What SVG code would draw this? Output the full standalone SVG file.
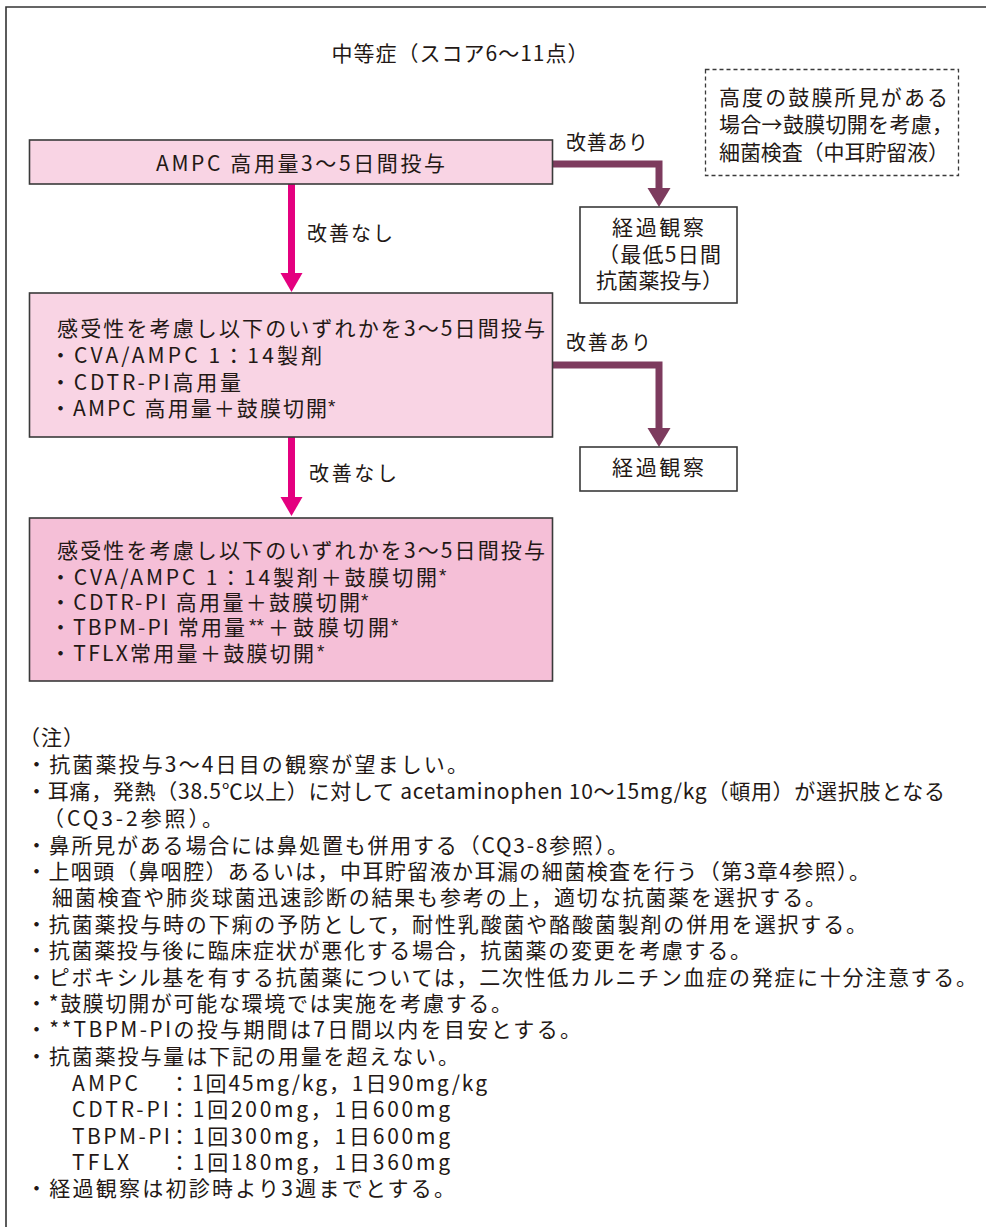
<svg xmlns="http://www.w3.org/2000/svg" width="986" height="1227" viewBox="0 0 986 1227">
<style>
text{font-family:"Noto Sans CJK JP","Noto Sans",sans-serif;fill:#231815;font-size:21px}
.c{text-anchor:middle}
.lbl{font-size:20px}
.sup{font-family:"Liberation Sans",sans-serif;font-size:19px}
.pink{fill:#f9d4e4;stroke:#3a3a3a;stroke-width:1.6}
.pink2{fill:#f5bfd7;stroke:#3a3a3a;stroke-width:1.6}
.white{fill:#fff;stroke:#3a3a3a;stroke-width:1.6}
.dash{fill:#fff;stroke:#3a3a3a;stroke-width:1.3;stroke-dasharray:4 3}
.mag{stroke:#e4007f;stroke-width:7;fill:none}
.magh{fill:#e4007f}
.pur{stroke:#7d3b5e;stroke-width:7;fill:none}
.purh{fill:#7d3b5e}
</style>
<rect width="986" height="1227" fill="#fff"/>
<path d="M6,1227 V7 H986" fill="none" stroke="#333" stroke-width="1.6"/>
<text id="title" class="c" x="460" y="61" textLength="257">中等症（スコア6〜11点）</text>
<g id="note-dashed">
<rect class="dash" x="705.5" y="69.5" width="253" height="106"/>
<text x="719" y="105" textLength="229">高度の鼓膜所見がある</text>
<text x="719" y="132" textLength="234">場合→鼓膜切開を考慮，</text>
<text x="719" y="160" textLength="230">細菌検査（中耳貯留液）</text>
</g>
<g id="connectors">
<path class="pur" d="M552,164 H659 V190"/>
<polygon class="purh" points="647.5,188 670.5,188 659,207"/>
<path class="pur" d="M552,365 H659 V430"/>
<polygon class="purh" points="647.5,428 670.5,428 659,447"/>
<path class="mag" d="M291.5,184 V275"/>
<polygon class="magh" points="280.5,273 302.5,273 291.5,292"/>
<path class="mag" d="M291.5,437 V499"/>
<polygon class="magh" points="280.5,497 302.5,497 291.5,516"/>
<text class="lbl" x="566" y="150" textLength="82">改善あり</text>
<text class="lbl" x="307" y="241" textLength="86">改善なし</text>
<text class="lbl" x="566" y="350" textLength="85">改善あり</text>
<text class="lbl" x="309" y="481" textLength="88">改善なし</text>
</g>
<g id="box1">
<rect class="pink" x="29.5" y="140" width="523" height="44"/>
<text x="156" y="171" textLength="289">AMPC 高用量3〜5日間投与</text>
</g>
<g id="obs1">
<rect class="white" x="580" y="207" width="157" height="96"/>
<text x="612" y="235" textLength="92">経過観察</text>
<text x="598" y="262" textLength="123">（最低5日間</text>
<text x="596" y="288" textLength="127">抗菌薬投与）</text>
</g>
<g id="box2">
<rect class="pink" x="29.5" y="293" width="523" height="144"/>
<text x="57" y="336" textLength="488">感受性を考慮し以下のいずれかを3〜5日間投与</text>
<text x="50" y="363" textLength="272">・CVA/AMPC 1：14製剤</text>
<text x="50" y="390" textLength="191">・CDTR-PI高用量</text>
<text x="50" y="416" textLength="277">・AMPC 高用量＋鼓膜切開</text>
<text class="sup" x="328" y="413">*</text>
</g>
<g id="obs2">
<rect class="white" x="580" y="447" width="157" height="44"/>
<text x="612" y="475" textLength="92">経過観察</text>
</g>
<g id="box3">
<rect class="pink2" x="29.5" y="518" width="523" height="163"/>
<text x="57" y="558" textLength="488">感受性を考慮し以下のいずれかを3〜5日間投与</text>
<text x="50" y="585" textLength="387">・CVA/AMPC 1：14製剤＋鼓膜切開</text>
<text class="sup" x="439" y="582">*</text>
<text x="50" y="610" textLength="310">・CDTR-PI 高用量＋鼓膜切開</text>
<text class="sup" x="361" y="607">*</text>
<text x="50" y="635" textLength="195">・TBPM-PI 常用量</text>
<text class="sup" x="249" y="632">**</text>
<text x="268" y="635" textLength="121">＋鼓膜切開</text>
<text class="sup" x="391" y="632">*</text>
<text x="50" y="661" textLength="264">・TFLX常用量＋鼓膜切開</text>
<text class="sup" x="317" y="658">*</text>
</g>
<g id="notes">
<text x="19" y="745" textLength="65">（注）</text>
<text x="26" y="772" textLength="442">・抗菌薬投与3〜4日目の観察が望ましい。</text>
<text x="26" y="799" textLength="919">・耳痛，発熱（38.5℃以上）に対して acetaminophen 10〜15mg/kg（頓用）が選択肢となる</text>
<text x="43" y="826" textLength="180">（CQ3-2参照）。</text>
<text x="26" y="853" textLength="602">・鼻所見がある場合には鼻処置も併用する（CQ3-8参照）。</text>
<text x="26" y="879" textLength="844">・上咽頭（鼻咽腔）あるいは，中耳貯留液か耳漏の細菌検査を行う（第3章4参照）。</text>
<text x="52" y="905" textLength="774">細菌検査や肺炎球菌迅速診断の結果も参考の上，適切な抗菌薬を選択する。</text>
<text x="26" y="932" textLength="841">・抗菌薬投与時の下痢の予防として，耐性乳酸菌や酪酸菌製剤の併用を選択する。</text>
<text x="26" y="958" textLength="725">・抗菌薬投与後に臨床症状が悪化する場合，抗菌薬の変更を考慮する。</text>
<text x="26" y="985" textLength="951">・ピボキシル基を有する抗菌薬については，二次性低カルニチン血症の発症に十分注意する。</text>
<text x="26" y="1011" textLength="486">・*鼓膜切開が可能な環境では実施を考慮する。</text>
<text x="26" y="1037" textLength="555">・**TBPM-PIの投与期間は7日間以内を目安とする。</text>
<text x="26" y="1064" textLength="433">・抗菌薬投与量は下記の用量を超えない。</text>
<text x="72" y="1091" textLength="66">AMPC</text>
<text x="169" y="1091" textLength="318">：1回45mg/kg，1日90mg/kg</text>
<text x="72" y="1117" textLength="97">CDTR-PI</text>
<text x="169" y="1117" textLength="281">：1回200mg，1日600mg</text>
<text x="72" y="1144" textLength="98">TBPM-PI</text>
<text x="169" y="1144" textLength="281">：1回300mg，1日600mg</text>
<text x="72" y="1170" textLength="57">TFLX</text>
<text x="169" y="1170" textLength="281">：1回180mg，1日360mg</text>
<text x="26" y="1196" textLength="429">・経過観察は初診時より3週までとする。</text>
</g>
</svg>
